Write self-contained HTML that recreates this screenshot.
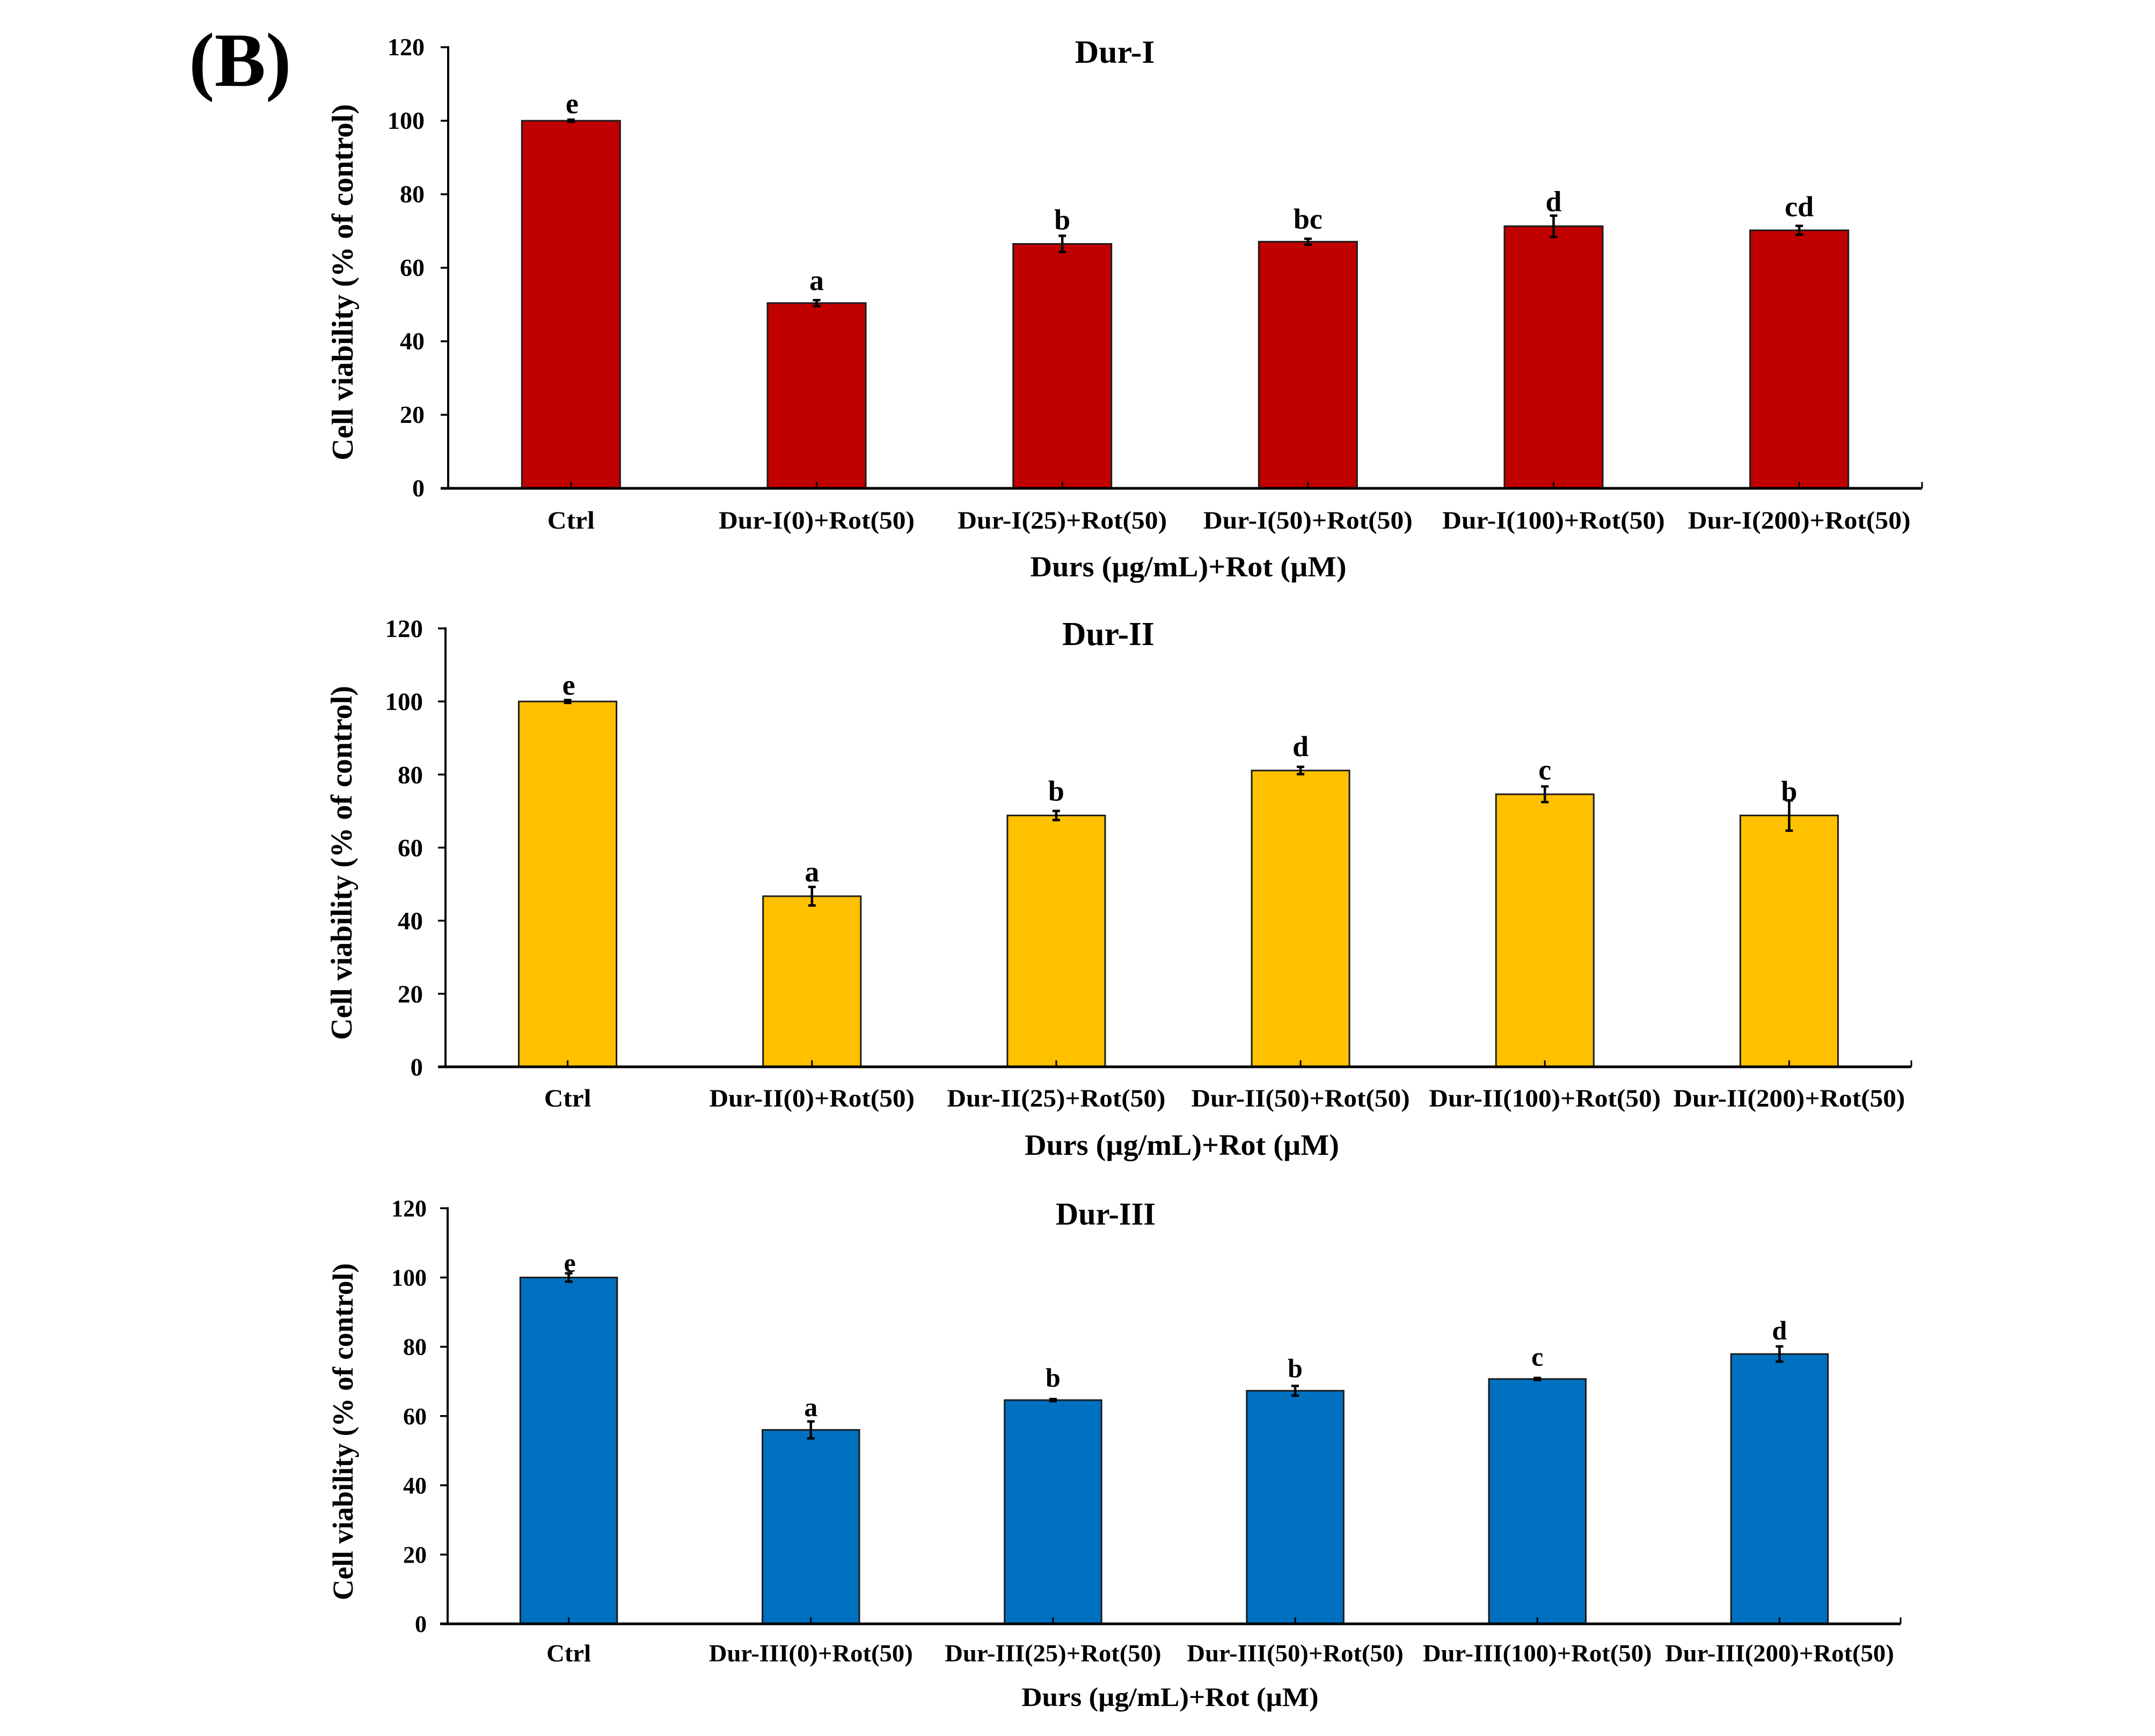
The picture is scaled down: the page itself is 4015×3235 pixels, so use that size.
<!DOCTYPE html>
<html lang="en">
<head>
<meta charset="utf-8">
<title>Cell viability charts</title>
<style>
html,body{margin:0;padding:0;background:#fff;width:4015px;height:3235px;overflow:hidden}
svg{display:block}
text{font-family:"Liberation Serif",serif;font-weight:bold;fill:#000}
</style>
</head>
<body>
<svg id="figure" xmlns="http://www.w3.org/2000/svg" width="4015" height="3235" viewBox="0 0 4015 3235">
  <rect x="0" y="0" width="4015" height="3235" fill="#fff"/>
  <text x="352" y="160" font-size="143">(B)</text>
</svg>
<script>
// Chart data
const yTicks = [0, 20, 40, 60, 80, 100, 120];
const yTitle = 'Cell viability (% of control)';
const xTitle = 'Durs (\u00b5g/mL)+Rot (\u00b5M)';

const titleOne = 'Dur-I';
const categoriesOne = ['Ctrl', 'Dur-I(0)+Rot(50)', 'Dur-I(25)+Rot(50)', 'Dur-I(50)+Rot(50)', 'Dur-I(100)+Rot(50)', 'Dur-I(200)+Rot(50)'];
const valuesOne = [100, 50.4, 66.5, 67.1, 71.3, 70.2];
const errorsOne = [0.3, 0.8, 2.2, 0.8, 2.9, 1.2];
const lettersOne = ['e', 'a', 'b', 'bc', 'd', 'cd'];

const titleTwo = 'Dur-II';
const categoriesTwo = ['Ctrl', 'Dur-II(0)+Rot(50)', 'Dur-II(25)+Rot(50)', 'Dur-II(50)+Rot(50)', 'Dur-II(100)+Rot(50)', 'Dur-II(200)+Rot(50)'];
const valuesTwo = [100, 46.7, 68.8, 81.1, 74.6, 68.8];
const errorsTwo = [0.4, 2.55, 1.25, 1.0, 2.15, 4.15];
const lettersTwo = ['e', 'a', 'b', 'd', 'c', 'b'];

const titleThree = 'Dur-III';
const categoriesThree = ['Ctrl', 'Dur-III(0)+Rot(50)', 'Dur-III(25)+Rot(50)', 'Dur-III(50)+Rot(50)', 'Dur-III(100)+Rot(50)', 'Dur-III(200)+Rot(50)'];
const valuesThree = [100, 56, 64.6, 67.3, 70.7, 77.9];
const errorsThree = [1.2, 2.45, 0.3, 1.4, 0.3, 2.2];
const lettersThree = ['e', 'a', 'b', 'b', 'c', 'd'];

// Layout of each panel (pixels)
const layoutOne = {
  slug: 'dur-i', color: '#C00000', left: 835, right: 3581, top: 88, bottom: 910,
  tickEnd: 791, tickSize: 46, tickDy: 15,
  titleX: 2077, titleY: 117, titleSize: 60, titleSx: 1.03,
  catY: 985, catSize: 47, catSx: 1.055,
  xTitleX: 2214, xTitleY: 1074, xTitleSize: 54, xTitleSx: 1.045,
  yTitleX: 657, yTitleY: 526, yTitleSize: 56, yTitleLen: 664,
  letterSize: 54, letterDx: [2, 0, 0, 0, 0, 0], letterGap: [12, 19, 12, 19, 8, 18]
};
const layoutTwo = {
  slug: 'dur-ii', color: '#FFC000', left: 830, right: 3561, top: 1171, bottom: 1988,
  tickEnd: 788, tickSize: 47, tickDy: 16,
  titleX: 2065, titleY: 1202, titleSize: 62, titleSx: 0.99,
  catY: 2062, catSize: 47, catSx: 1.05,
  xTitleX: 2202, xTitleY: 2152, xTitleSize: 55, xTitleSx: 1.02,
  yTitleX: 655, yTitleY: 1608, yTitleSize: 56, yTitleLen: 660,
  letterSize: 54, letterDx: [2, 0, 0, 0, 0, 0], letterGap: [10, 10, 19, 20, 13, -1]
};
const layoutThree = {
  slug: 'dur-iii', color: '#0070C0', left: 834, right: 3541, top: 2251.5, bottom: 3026,
  tickEnd: 795, tickSize: 44, tickDy: 15,
  titleX: 2060, titleY: 2282, titleSize: 59, titleSx: 0.99,
  catY: 3096, catSize: 46, catSx: 1.015,
  xTitleX: 2180, xTitleY: 3179, xTitleSize: 50, xTitleSx: 1.06,
  yTitleX: 657, yTitleY: 2668, yTitleSize: 54, yTitleLen: 628,
  letterSize: 50, letterDx: [2, 0, 0, 0, 0, 0], letterGap: [3, 10, 23, 16, 23, 13]
};

const NS = 'http://www.w3.org/2000/svg';
const svg = document.getElementById('figure');

function shape(parent, tag, attrs) {
  const node = document.createElementNS(NS, tag);
  for (const key in attrs) node.setAttribute(key, attrs[key]);
  parent.appendChild(node);
  return node;
}

function label(parent, str, x, y, size, sx, anchor) {
  const node = shape(parent, 'text', {
    transform: 'translate(' + x + ',' + y + ') scale(' + sx + ',1)',
    'font-size': size,
    'text-anchor': anchor
  });
  node.textContent = str;
  return node;
}

function drawPanel(layout, title, categories, values, errors, letters) {
  const g = shape(svg, 'g', {});
  
  

  const yScale = v => layout.bottom - (v / 120) * (layout.bottom - layout.top);
  const band = (layout.right - layout.left) / categories.length;
  const xCenter = i => layout.left + band * (i + 0.5);
  const barWidth = band * 0.4;

  // bars first so axes and error bars sit over them
  categories.forEach((cat, i) => {
    const bar = shape(g, 'rect', {
      x: xCenter(i) - barWidth / 2,
      y: yScale(values[i]),
      width: barWidth,
      height: yScale(0) - yScale(values[i]),
      fill: layout.color,
      stroke: '#1c1c1c',
      'stroke-width': 3
    });
    
    
  });

  // y axis
  const yAxis = shape(g, 'line', {
    x1: layout.left, x2: layout.left, y1: layout.top - 2, y2: layout.bottom,
    stroke: '#000', 'stroke-width': 4
  });
  
  

  yTicks.forEach(t => {
    const tick = shape(g, 'line', {
      x1: layout.left - 14, x2: layout.left, y1: yScale(t), y2: yScale(t),
      stroke: '#000', 'stroke-width': 3.5
    });
    
    
    const tickText = label(g, String(t), layout.tickEnd, yScale(t) + layout.tickDy, layout.tickSize, 1, 'end');
    
    
  });

  // x axis
  const xAxis = shape(g, 'line', {
    x1: layout.left - 14, x2: layout.right, y1: layout.bottom, y2: layout.bottom,
    stroke: '#000', 'stroke-width': 5
  });
  
  

  for (let i = 0; i <= categories.length; i++) {
    const tx = i === categories.length ? layout.right : xCenter(i);
    const xTick = shape(g, 'line', {
      x1: tx, x2: tx, y1: layout.bottom - 12, y2: layout.bottom,
      stroke: '#000', 'stroke-width': 3
    });
    
    
  }

  // error bars, letters, category labels
  categories.forEach((cat, i) => {
    const cx = xCenter(i);
    const hi = yScale(values[i] + errors[i]);
    const lo = yScale(values[i] - errors[i]);
    const err = shape(g, 'path', {
      d: 'M' + (cx - 7) + ' ' + hi + 'H' + (cx + 7) + 'M' + cx + ' ' + hi + 'V' + lo + 'M' + (cx - 7) + ' ' + lo + 'H' + (cx + 7),
      fill: 'none',
      stroke: '#000',
      'stroke-width': 4.5
    });
    
    

    const letter = label(g, letters[i], cx + layout.letterDx[i], hi - layout.letterGap[i], layout.letterSize, 1, 'middle');
    
    

    const catText = label(g, cat, cx, layout.catY, layout.catSize, layout.catSx, 'middle');
    
    
  });

  const titleText = label(g, title, layout.titleX, layout.titleY, layout.titleSize, layout.titleSx, 'middle');
  
  

  const xTitleText = label(g, xTitle, layout.xTitleX, layout.xTitleY, layout.xTitleSize, layout.xTitleSx, 'middle');
  
  

  const yTitleText = shape(g, 'text', {
    transform: 'translate(' + layout.yTitleX + ',' + layout.yTitleY + ') rotate(-90)',
    'font-size': layout.yTitleSize,
    'text-anchor': 'middle',
    textLength: layout.yTitleLen,
    lengthAdjust: 'spacingAndGlyphs'
  });
  yTitleText.textContent = yTitle;
  
  
}

drawPanel(layoutOne, titleOne, categoriesOne, valuesOne, errorsOne, lettersOne);
drawPanel(layoutTwo, titleTwo, categoriesTwo, valuesTwo, errorsTwo, lettersTwo);
drawPanel(layoutThree, titleThree, categoriesThree, valuesThree, errorsThree, lettersThree);
</script>
</body>
</html>
